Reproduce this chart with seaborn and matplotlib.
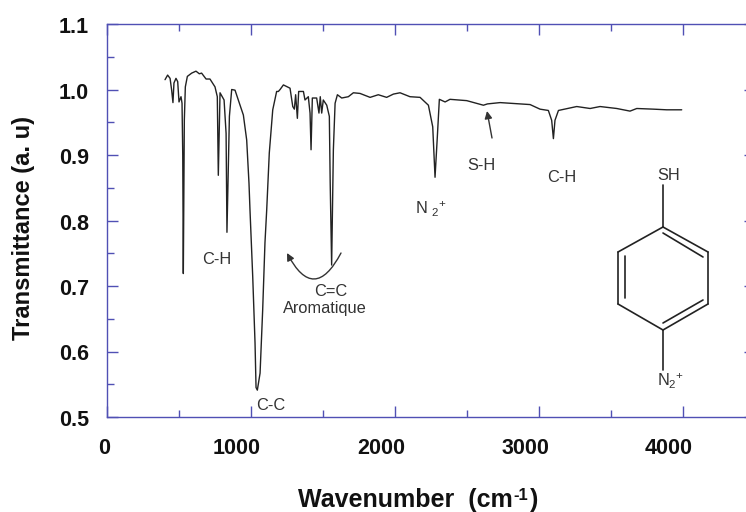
import matplotlib
matplotlib.use("Agg")
import pandas as pd
import matplotlib.pyplot as plt
from matplotlib.lines import Line2D
from matplotlib.patches import FancyArrowPatch
from matplotlib.transforms import ScaledTranslation
import seaborn as sns

# Spectrum
wavenumber = [403, 421, 438, 449, 458, 465, 479, 491, 500, 514, 521, 526, 530, 537, 544, 558,
              588, 618, 641, 657, 688, 715, 750, 766, 773, 785, 813, 827, 833, 850, 866, 889,
              924, 947, 970, 986, 993, 1012, 1028, 1035, 1044, 1063, 1081, 1097, 1109, 1127,
              1151, 1178, 1190, 1202, 1225, 1271, 1290, 1301, 1310, 1322, 1331, 1364, 1375,
              1398, 1410, 1417, 1426, 1456, 1472, 1481, 1491, 1502, 1526, 1544, 1550, 1560,
              1572, 1584, 1600, 1630, 1676, 1711, 1757, 1827, 1884, 1942, 1989, 2035, 2104,
              2174, 2232, 2262, 2278, 2294, 2308, 2348, 2382, 2498, 2614, 2642, 2730, 2938,
              3007, 3065, 3088, 3100, 3111, 3135, 3262, 3355, 3424, 3540, 3632, 3679, 3794,
              3887, 3991]
transmittance = [1.015, 1.022, 1.017, 0.999, 0.980, 1.010, 1.017, 1.012, 0.981, 0.989, 0.979, 0.900,
                 0.719, 0.953, 1.004, 1.020, 1.025, 1.028, 1.024, 1.025, 1.016, 1.016, 1.004,
                 0.989, 0.869, 0.995, 0.984, 0.933, 0.782, 0.959, 1.000, 0.999, 0.976, 0.961,
                 0.923, 0.857, 0.816, 0.714, 0.613, 0.545, 0.541, 0.567, 0.663, 0.766, 0.816,
                 0.903, 0.969, 0.997, 0.997, 1.000, 1.007, 1.002, 0.974, 0.970, 0.992, 0.956,
                 0.997, 0.997, 0.984, 0.989, 0.964, 0.908, 0.987, 0.987, 0.964, 0.989, 0.964,
                 0.984, 0.976, 0.959, 0.857, 0.732, 0.908, 0.979, 0.992, 0.987, 0.989, 0.995,
                 0.994, 0.988, 0.992, 0.988, 0.993, 0.995, 0.989, 0.988, 0.976, 0.943, 0.866,
                 0.928, 0.985, 0.981, 0.985, 0.983, 0.976, 0.978, 0.980, 0.977, 0.970, 0.968,
                 0.953, 0.925, 0.953, 0.968, 0.974, 0.971, 0.974, 0.971, 0.967, 0.971, 0.970,
                 0.969, 0.969]

x_tick_labels = [0, 1000, 2000, 3000, 4000]
y_tick_labels = [0.5, 0.6, 0.7, 0.8, 0.9, 1.0, 1.1]

W, H = 746, 512
AXIS_COLOR = "#5050b4"
TEXT_COLOR = "#333333"
LABEL_COLOR = "#111111"

sns.set_style("white")
plt.rcParams["font.family"] = ["Liberation Sans", "DejaVu Sans"]
plt.rcParams["mathtext.default"] = "regular"


def fx(px):
    return px / W


def fy(py):
    return 1 - py / H


fig = plt.figure(figsize=(W / 100, H / 100), dpi=100)
# the right side of the frame runs off the picture, as in the scan
ax = fig.add_axes([fx(107), fy(417), fx(755 - 107), (417 - 24) / H])

df = pd.DataFrame({"wavenumber": wavenumber, "transmittance": transmittance})
sns.lineplot(data=df, x="wavenumber", y="transmittance", color="#222222", linewidth=1.0,
             sort=False, estimator=None, ax=ax)

ax.set_xlim(0, 4500)
ax.set_ylim(0.5, 1.1)
ax.set_xticks(x_tick_labels)
ax.set_xticks([500, 1500, 2500, 3500], minor=True)
ax.set_yticks(y_tick_labels)
ax.set_yticks([0.55, 0.65, 0.75, 0.85, 0.95, 1.05], minor=True)
ax.set_xticklabels([str(v) for v in x_tick_labels], fontsize=15.5, fontweight="bold", color=LABEL_COLOR)
ax.set_yticklabels([f"{v:.1f}" for v in y_tick_labels], fontsize=15.5, fontweight="bold", color=LABEL_COLOR)
ax.tick_params(which="major", direction="in", length=8, width=1, color=AXIS_COLOR,
               top=True, bottom=True, left=True, right=True)
ax.tick_params(which="minor", direction="in", length=5, width=1, color=AXIS_COLOR,
               top=True, bottom=True, left=True, right=True)
ax.tick_params(axis="y", which="major", length=8, pad=13)
ax.tick_params(axis="x", which="major", pad=15)
for side in ax.spines.values():
    side.set_color(AXIS_COLOR)
    side.set_linewidth(1)

# tick labels sit left of their ticks in the original
for value, tick_text in zip(x_tick_labels, ax.get_xticklabels()):
    shift = -3 if value == 0 else -14
    tick_text.set_transform(tick_text.get_transform() + ScaledTranslation(shift / 100, 0, fig.dpi_scale_trans))
for tick_text in ax.get_yticklabels():
    tick_text.set_transform(tick_text.get_transform() + ScaledTranslation(0, -1 / 100, fig.dpi_scale_trans))

ax.set_xlabel("")
ax.set_ylabel("")
fig.text(fx(298), fy(507), "Wavenumber  (cm", ha="left", va="baseline",
         fontsize=18, fontweight="bold", color=LABEL_COLOR)
fig.text(fx(513), fy(500), "-1", ha="left", va="baseline",
         fontsize=12, fontweight="bold", color=LABEL_COLOR)
fig.text(fx(538), fy(507), ")", ha="right", va="baseline",
         fontsize=18, fontweight="bold", color=LABEL_COLOR)
fig.text(fx(24), fy(340), "Transmittance (a. u)", rotation=90, ha="center", va="bottom",
         fontsize=17, fontweight="bold", color=LABEL_COLOR)

# Peak labels
peak_labels = [
    (217, 259, "C-H"), (331, 292, "C=C"), (325, 309, "Aromatique"), (271, 405, "C-C"),
    (481, 166, "S-H"), (562, 178, "C-H"), (669, 176, "SH"),
]
for px, py, label in peak_labels:
    fig.text(fx(px), fy(py), label, ha="center", va="center", fontsize=11.8, color=TEXT_COLOR)
fig.text(fx(431), fy(209), "N $_{2}$$^{+}$", ha="center", va="center", fontsize=11.8, color=TEXT_COLOR)
fig.text(fx(671), fy(381), "N$_{2}$$^{+}$", ha="center", va="center", fontsize=11.8, color=TEXT_COLOR)


def arrow(p0, p1, rad=0.0):
    fig.add_artist(FancyArrowPatch((fx(p0[0]), fy(p0[1])), (fx(p1[0]), fy(p1[1])),
                                   transform=fig.transFigure, arrowstyle="-|>", mutation_scale=11,
                                   connectionstyle=f"arc3,rad={rad}", color="#333333", linewidth=1,
                                   shrinkA=0, shrinkB=0))


arrow((492, 138), (487, 111))
arrow((341, 253), (287, 253), rad=-0.95)

# Molecule sketch
bonds = [
    ((663, 185), (663, 227)),
    ((663, 227), (708, 252)), ((708, 252), (708, 304)), ((708, 304), (663, 330)),
    ((663, 330), (618, 304)), ((618, 304), (618, 252)), ((618, 252), (663, 227)),
    ((663, 233), (703, 257)), ((703, 300), (663, 323)), ((625, 256), (625, 298)),
    ((663, 330), (663, 370)),
]
for (x0, y0), (x1, y1) in bonds:
    fig.add_artist(Line2D([fx(x0), fx(x1)], [fy(y0), fy(y1)], color="#222222", linewidth=1.2,
                          transform=fig.transFigure))

fig.savefig("out.png", dpi=100)
